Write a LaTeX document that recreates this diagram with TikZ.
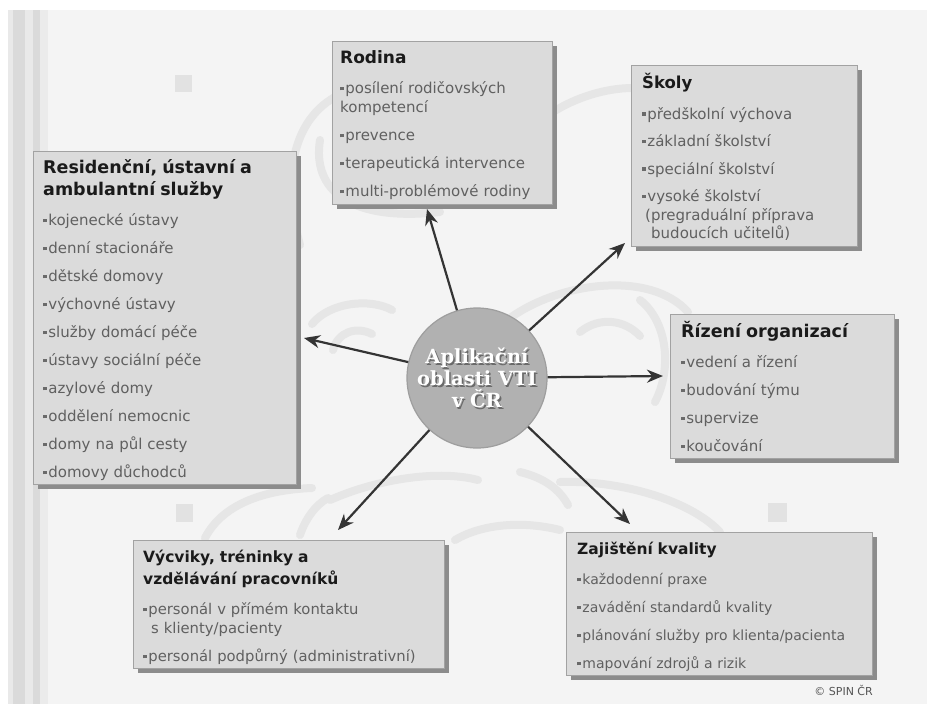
\documentclass[tikz,border=0pt]{standalone}
\usepackage{fontspec}
\setmainfont{DejaVu Sans}
\newfontfamily\circfont{DejaVu Serif}
\usetikzlibrary{arrows.meta,shadows,calc}
\definecolor{panelbg}{HTML}{F4F4F4}
\definecolor{boxfill}{HTML}{DBDBDB}
\definecolor{boxline}{HTML}{A2A2A2}
\definecolor{shadowc}{HTML}{8C8C8C}
\definecolor{itemc}{HTML}{606060}
\definecolor{bulletc}{HTML}{6A6A6A}
\definecolor{titlec}{HTML}{1A1A1A}
\definecolor{swirlc}{HTML}{E6E6E6}
\definecolor{sqc}{HTML}{E2E2E2}
\definecolor{arrowc}{HTML}{343434}
\definecolor{circfill}{HTML}{B1B1B1}
\definecolor{circline}{HTML}{9E9E9E}
\definecolor{ctshadow}{HTML}{6A6A6A}
\definecolor{stripeA}{HTML}{E9E9E9}
\definecolor{stripeB}{HTML}{DADADA}
\definecolor{copyc}{HTML}{555555}
\newcommand{\ttl}[2]{{\leavevmode\fontsize{#1}{22}\selectfont\bfseries\color{titlec}\strut #2\par}\vspace{11pt}}
\newcommand{\blt}{{\color{bulletc}\rule[3.2pt]{3.6pt}{3.6pt}}\hspace{1.6pt}}
\newcommand{\itm}[1]{\leavevmode\blt #1\par\vspace{9pt}}
\tikzset{
  boxst/.style={draw=boxline, line width=0.8pt, fill=boxfill, inner sep=0pt, anchor=north west,
    drop shadow={shadow xshift=5pt, shadow yshift=-5pt, fill=shadowc, opacity=1}},
  txtst/.style={anchor=north west, inner sep=0pt, align=left, text=itemc},
  arr/.style={draw=arrowc, line width=2.2pt, -{Stealth[length=16pt,width=13pt]}},
  swirl/.style={draw=swirlc, line width=8pt, line cap=round},
  sq/.style={fill=sqc, draw=none}
}
\begin{document}
\begin{tikzpicture}[x=1pt,y=-1pt]
\useasboundingbox (0,0) rectangle (927,704);
\fill[white] (0,0) rectangle (927,704);
\fill[panelbg] (8,10) rectangle (927,704);
% left stripes
\fill[stripeA] (8,10) rectangle (13,704);
\fill[stripeB] (13,10) rectangle (25,704);
\fill[stripeA] (25,10) rectangle (33,704);
\fill[stripeB] (33,10) rectangle (40,704);
\fill[stripeA!90!white] (40,10) rectangle (48,704);
% background swirls
\draw[swirl] (300,245) .. controls (282,180) and (290,115) .. (345,92);
\draw[swirl] (320,140) .. controls (312,190) and (350,222) .. (440,212);
\draw[swirl] (553,112) .. controls (575,98) and (605,88) .. (633,88);
\draw[swirl] (510,318) .. controls (560,282) and (650,270) .. (688,312);
\draw[swirl] (640,300) .. controls (668,322) and (672,370) .. (655,402);
\draw[swirl] (580,332) .. controls (600,316) and (625,320) .. (640,336);
\draw[swirl] (312,324) .. controls (330,302) and (370,298) .. (392,310);
\draw[swirl] (333,350) .. controls (338,332) and (356,326) .. (372,334);
\draw[swirl] (205,538) .. controls (222,505) and (262,490) .. (312,488);
\draw[swirl] (330,500) .. controls (380,478) and (440,470) .. (478,480);
\draw[swirl] (520,472) .. controls (545,478) and (560,490) .. (568,505);
\draw[swirl] (560,482) .. controls (620,480) and (690,500) .. (720,532);
\draw[swirl] (300,535) .. controls (305,520) and (315,505) .. (328,498);
\draw[swirl] (455,540) .. controls (480,525) and (520,520) .. (560,530);
% squares
\fill[sq] (175,75) rectangle (192,92);
\fill[sq] (176,504) rectangle (193,522);
\fill[sq] (768,503) rectangle (787,522);
% boxes
\node[boxst, minimum width=220pt, minimum height=163pt] (rodina) at (332,41) {};
\node[boxst, minimum width=226pt, minimum height=181pt] (skoly) at (631,65) {};
\node[boxst, minimum width=263pt, minimum height=333pt] (resid) at (33,151) {};
\node[boxst, minimum width=224pt, minimum height=144pt] (rizeni) at (670,314) {};
\node[boxst, minimum width=311pt, minimum height=128pt] (vycvik) at (133,540) {};
\node[boxst, minimum width=306pt, minimum height=143pt] (kvalita) at (566,532) {};
% box texts
\node[txtst, text width=210pt, font=\fontsize{15}{19}\selectfont] (rodinaT) at ($(rodina.north west)+(8,7)$) {%
\ttl{17}{Rodina}%
\itm{posílení rodičovských\\kompetencí}%
\itm{prevence}%
\itm{terapeutická intervence}%
\itm{multi-problémové rodiny}};
\node[txtst, text width=214pt, font=\fontsize{15}{18.5}\selectfont] (skolyT) at ($(skoly.north west)+(11,8)$) {%
\ttl{16.5}{Školy}%
\itm{předškolní výchova}%
\itm{základní školství}%
\itm{speciální školství}%
\itm{vysoké školství\\\hspace*{3pt}(pregraduální příprava\\\hspace*{9pt}budoucích učitelů)}};
\node[txtst, text width=250pt, font=\fontsize{15}{19}\selectfont] (residT) at ($(resid.north west)+(10,7)$) {%
\ttl{17.5}{Residenční, ústavní a\\ambulantní služby}%
\itm{kojenecké ústavy}%
\itm{denní stacionáře}%
\itm{dětské domovy}%
\itm{výchovné ústavy}%
\itm{služby domácí péče}%
\itm{ústavy sociální péče}%
\itm{azylové domy}%
\itm{oddělení nemocnic}%
\itm{domy na půl cesty}%
\itm{domovy důchodců}};
\node[txtst, text width=212pt, font=\fontsize{15}{19}\selectfont] (rizeniT) at ($(rizeni.north west)+(11,7)$) {%
\ttl{17.5}{Řízení organizací}%
\itm{vedení a řízení}%
\itm{budování týmu}%
\itm{supervize}%
\itm{koučování}};
\node[txtst, text width=300pt, font=\fontsize{14.8}{19}\selectfont] (vycvikT) at ($(vycvik.north west)+(10,7)$) {%
\ttl{15.5}{Výcviky, tréninky a\\vzdělávání pracovníků}%
\itm{personál v přímém kontaktu\\\hspace*{8pt}s klienty/pacienty}%
\itm{personál podpůrný (administrativní)}};
\node[txtst, text width=296pt, font=\fontsize{14}{19}\selectfont] (kvalitaT) at ($(kvalita.north west)+(11,7)$) {%
\ttl{15.5}{Zajištění kvality}%
\itm{každodenní praxe}%
\itm{zavádění standardů kvality}%
\itm{plánování služby pro klienta/pacienta}%
\itm{mapování zdrojů a rizik}};
% centre circle
\node[circle, minimum size=140pt, inner sep=0pt, fill=circfill, draw=circline, line width=1.2pt] (center) at (477,378) {};
\node[align=center, inner sep=0pt, text=ctshadow, font=\circfont\bfseries\fontsize{19.5}{22}\selectfont] (ctextsh) at (478.6,379.6) {Aplikační\\oblasti VTI\\v ČR};
\node[align=center, inner sep=0pt, text=white, font=\circfont\bfseries\fontsize{19.5}{22}\selectfont] (ctext) at (477,378) {Aplikační\\oblasti VTI\\v ČR};
% arrow targets
\coordinate (rodinaIn) at (427,209);
\coordinate (skolyIn) at (625,243);
\coordinate (residIn) at (304,338);
\coordinate (rizeniIn) at (663,376);
\coordinate (vycvikIn) at (338,530);
\coordinate (kvalitaIn) at (630,524);
\draw[arr] (center) -- (rodinaIn);
\draw[arr] (center) -- (skolyIn);
\draw[arr] (center) -- (residIn);
\draw[arr] (center) -- (rizeniIn);
\draw[arr] (center) -- (vycvikIn);
\draw[arr] (center) -- (kvalitaIn);
% copyright
\node[anchor=east, inner sep=0pt, text=copyc, font=\fontsize{11}{13}\selectfont] (copy) at (873,690) {© SPIN ČR};
\end{tikzpicture}
\end{document}
